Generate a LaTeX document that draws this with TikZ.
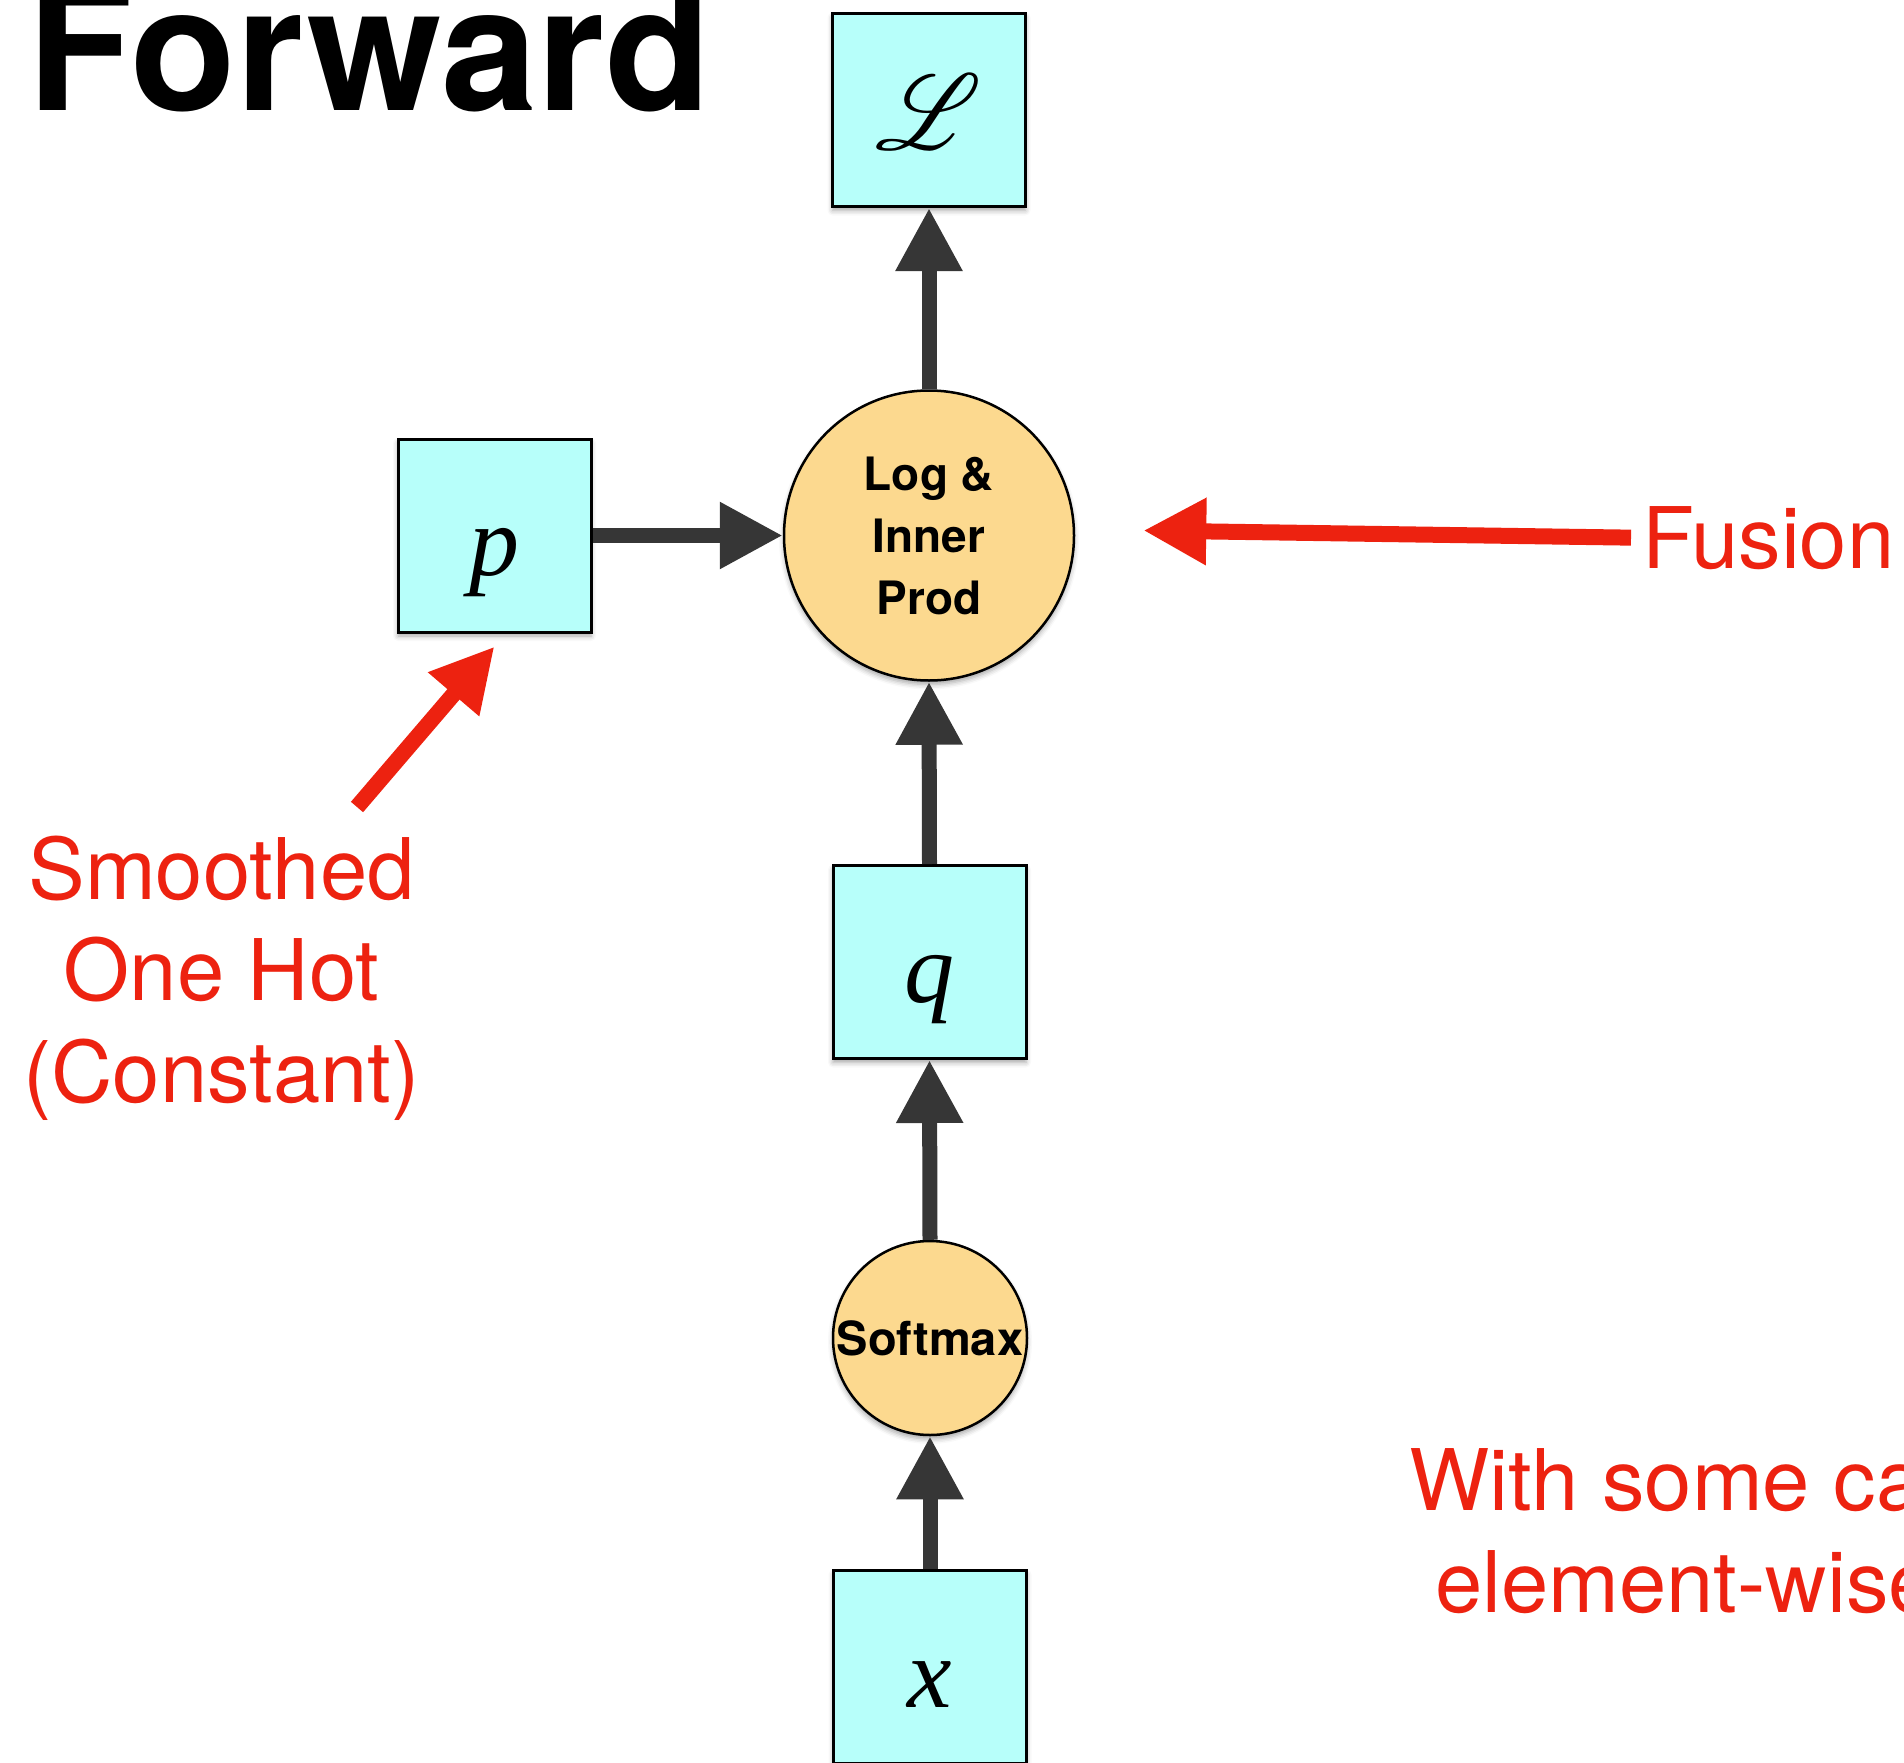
\documentclass[tikz,border=0pt]{standalone}
\usepackage{fontspec}
\setmainfont{TeX Gyre Heros}
\newfontfamily\varfont{Liberation Serif}
\usepackage{mathrsfs}
\usetikzlibrary{arrows.meta,shadows.blur}

\definecolor{varfill}{RGB}{183,255,250}
\definecolor{opfill}{RGB}{252,217,143}
\definecolor{flowgray}{RGB}{54,54,54}
\definecolor{notered}{RGB}{237,34,16}

\tikzset{
  softshadow/.style={blur shadow={shadow xshift=0pt, shadow yshift=-4pt,
      shadow blur radius=5pt, shadow opacity=35}},
  varbox/.style={draw=black, line width=3pt, fill=varfill, softshadow,
    minimum width=193pt, minimum height=193pt, inner sep=0pt,
    text height=90pt, text depth=10pt,
    font=\fontsize{100}{100}\selectfont\varfont\itshape},
  opnode/.style={circle, draw=black, line width=2.5pt, fill=opfill, softshadow,
    inner sep=0pt, font=\bfseries},
  flow/.style={draw=flowgray, line width=15pt,
    -{Triangle[length=63pt,width=63pt]}},
  note/.style={draw=notered, line width=16pt,
    -{Triangle[length=63pt,width=63pt]}},
  notetext/.style={text=notered, inner sep=0pt,
    font=\fontsize{85}{101.5}\selectfont},
}

\begin{document}
\begin{tikzpicture}[x=1pt, y=-1pt]
  \useasboundingbox (0,0) rectangle (1904,1763);
  \clip (0,0) rectangle (1904,1763);

  % title
  \node[anchor=base west, inner sep=0pt,
        font=\fontsize{173}{173}\selectfont\bfseries] (title) at (27,111) {Forward};

  % variables
  \node[varbox] (Lbox) at (929,110) {\scalebox{4}[4.3]{$\mathscr{L}$}};
  \node[varbox] (pbox) at (494.5,535.5) {p};
  \node[varbox] (qbox) at (929.5,962) {q};
  \node[varbox] (xbox) at (930,1667) {x};

  % operations
  \node[opnode, minimum size=290pt, align=center,
        font=\fontsize{46}{62}\selectfont\bfseries] (logprod) at (929,535.5)
        {Log \&\\Inner\\Prod};
  \node[opnode, minimum size=194pt,
        font=\fontsize{47}{47}\selectfont\bfseries] (softmax) at (930,1338) {Softmax};

  % data flow
  \draw[flow] (xbox.north) -- (softmax.south);
  \draw[flow] (softmax.north) -- (qbox.south);
  \draw[flow] (qbox.north) -- (logprod.south);
  \draw[flow] (pbox.east) -- (logprod.west);
  \draw[flow] (logprod.north) -- (Lbox.south);

  % annotations
  \node[notetext, anchor=base west] (fusion) at (1642,568) {Fusion};
  \draw[note] ([xshift=-11pt]fusion.west) -- ([xshift=68pt,yshift=5pt]logprod.east);

  \node[notetext, align=center, anchor=base] (smoothed) at (221.5,1102)
       {Smoothed\\One Hot\\(Constant)};
  \coordinate (smoothtail) at (357,807);
  \draw[note] (smoothtail) -- ([yshift=-13pt]pbox.south);

  \node[notetext, align=left, anchor=base west] (care) at (1409,1612)
       {With some care\\\hspace*{26pt}element-wise};
\end{tikzpicture}
\end{document}
